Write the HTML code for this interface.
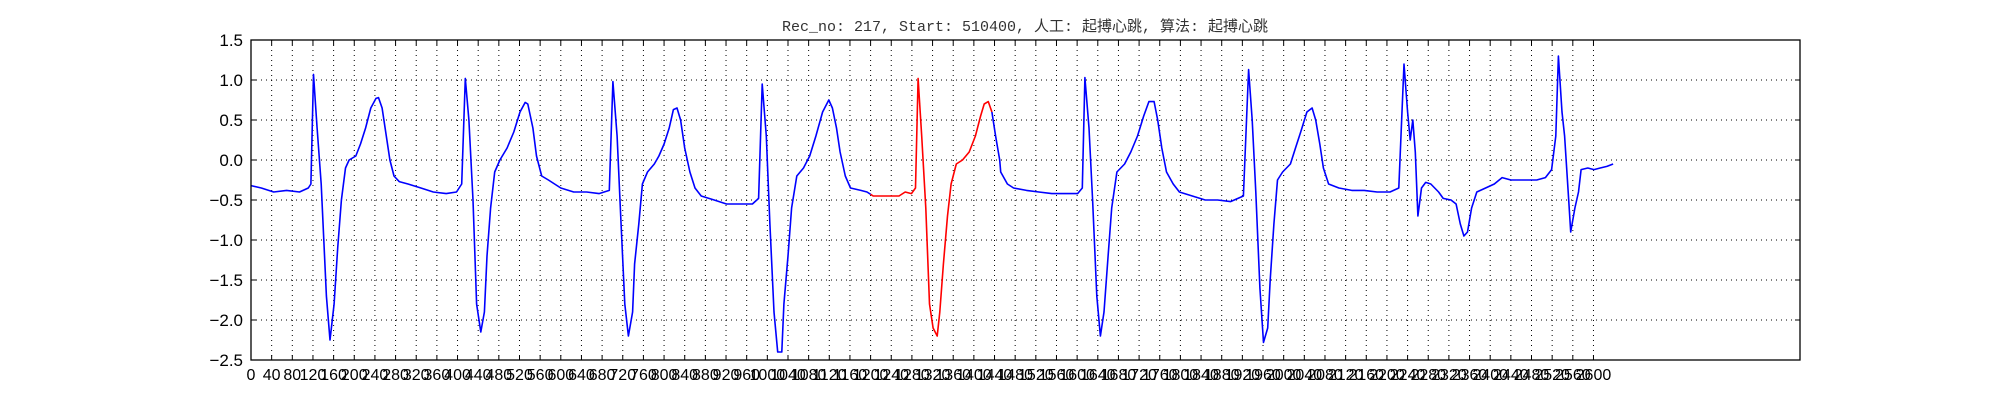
<!DOCTYPE html>
<html><head><meta charset="utf-8"><style>
html,body{margin:0;padding:0;background:#fff;}
svg{display:block;}
text{font-family:"Liberation Sans","DejaVu Sans",sans-serif;fill:#000;}
</style></head><body>
<svg id="chart" width="2000" height="400" xmlns="http://www.w3.org/2000/svg">
<rect width="2000" height="400" fill="#fff"/>
<text id="title" x="1025" y="31" text-anchor="middle" style="font-family:'Liberation Mono','Noto Sans CJK SC',monospace;font-size:15px;fill:#333">Rec_no: 217, Start: 510400, 人工: 起搏心跳, 算法: 起搏心跳</text>
<g id="grid"></g>
<g id="series"></g>
<g id="axes"></g>
</svg>
<script>
const sampleIdx=[0,20,44,69,94,111,116,121,128,136,146,153,161,168,175,183,190,203,212,222,232,242,247,254,262,269,277,287,304,329,353,378,398,408,415,
422,430,437,445,452,457,464,472,482,496,509,521,531,536,546,553,563,576,600,625,650,674,694,
701,709,716,724,731,739,743,751,758,768,781,790,800,810,818,825,832,840,850,860,872,897,921,946,971,983,
990,998,1005,1013,1020,1028,1032,1040,1047,1057,1070,1082,1094,1107,1119,1126,1134,1141,1151,1161,1181,1193,1205,1230,1255,1267,1279,1287,
1292,1299,1307,1314,1321,1329,1334,1341,1349,1356,1366,1378,1391,1403,1413,1420,1428,1435,1442,1450,1452,1465,1477,1502,1526,1551,1576,1601,1610,
1615,1623,1630,1638,1645,1652,1660,1667,1677,1692,1704,1717,1729,1739,1749,1756,1764,1773,1786,1798,1823,1848,1872,1897,1922,
1932,1939,1946,1954,1961,1969,1974,1981,1988,1998,2013,2023,2033,2045,2055,2062,2070,2077,2087,2107,2132,2156,2181,2206,2223,
2233,2240,2245,2250,2255,2260,2267,2275,2285,2300,2309,2324,2334,2342,2349,2356,2364,2374,2391,2408,2423,2440,2465,2490,2507,2519,2527,
2532,2539,2544,2552,2556,2564,2571,2576,2589,2601,2613,2626,2638];
const ecgValues=[-0.32,-0.35,-0.4,-0.38,-0.4,-0.35,-0.3,1.07,0.4,-0.3,-1.7,-2.25,-1.8,-1.1,-0.5,-0.1,0.0,0.05,0.2,0.4,0.65,0.77,0.78,0.65,0.3,0.0,-0.2,-0.27,-0.3,-0.35,-0.4,-0.42,-0.4,-0.3,1.02,
0.5,-0.5,-1.8,-2.15,-1.9,-1.2,-0.6,-0.15,0.0,0.15,0.35,0.6,0.72,0.7,0.4,0.05,-0.2,-0.25,-0.35,-0.4,-0.4,-0.42,-0.38,
0.98,0.3,-0.7,-1.8,-2.2,-1.9,-1.3,-0.8,-0.3,-0.15,-0.05,0.05,0.2,0.4,0.63,0.65,0.5,0.15,-0.15,-0.35,-0.45,-0.5,-0.55,-0.55,-0.55,-0.48,
0.95,0.3,-0.8,-1.9,-2.4,-2.4,-1.8,-1.2,-0.6,-0.2,-0.1,0.05,0.3,0.6,0.75,0.65,0.4,0.1,-0.2,-0.35,-0.38,-0.4,-0.45,-0.45,-0.45,-0.4,-0.42,-0.35,
1.02,0.3,-0.6,-1.8,-2.1,-2.2,-1.9,-1.3,-0.7,-0.3,-0.05,0.0,0.1,0.3,0.55,0.7,0.73,0.6,0.3,0.0,-0.15,-0.3,-0.35,-0.38,-0.4,-0.42,-0.42,-0.42,-0.35,
1.03,0.4,-0.5,-1.7,-2.2,-1.9,-1.2,-0.6,-0.15,-0.05,0.1,0.3,0.55,0.73,0.73,0.5,0.15,-0.15,-0.3,-0.4,-0.45,-0.5,-0.5,-0.52,-0.45,
1.13,0.5,-0.4,-1.6,-2.28,-2.1,-1.5,-0.8,-0.25,-0.15,-0.05,0.15,0.35,0.6,0.65,0.5,0.2,-0.1,-0.3,-0.35,-0.38,-0.38,-0.4,-0.4,-0.35,
1.2,0.6,0.25,0.5,0.1,-0.7,-0.35,-0.28,-0.3,-0.4,-0.48,-0.5,-0.55,-0.8,-0.95,-0.9,-0.6,-0.4,-0.35,-0.3,-0.22,-0.25,-0.25,-0.25,-0.22,-0.12,0.3,
1.3,0.6,0.3,-0.5,-0.9,-0.6,-0.4,-0.12,-0.1,-0.12,-0.1,-0.08,-0.05];
const redRange=[1200,1435];
const yTicks=[1.5,1.0,0.5,0.0,-0.5,-1.0,-1.5,-2.0,-2.5];
const xTickStep=40, xTickMax=2600;
const xDomain=[0,3000], yDomain=[-2.5,1.5];
const L=251,R=1800,T=40,B=360;
const NS="http://www.w3.org/2000/svg";
function sx(v){return L+(v-xDomain[0])/(xDomain[1]-xDomain[0])*(R-L);}
function sy(v){return B-(v-yDomain[0])/(yDomain[1]-yDomain[0])*(B-T);}
function mk(tag,attrs,parent){const e=document.createElementNS(NS,tag);for(const k in attrs)e.setAttribute(k,attrs[k]);parent.appendChild(e);return e;}
const grid=document.getElementById('grid'),series=document.getElementById('series'),axes=document.getElementById('axes');
for(let t=0;t<=xTickMax;t+=xTickStep){
  const x=sx(t);
  if(t>0){const g=mk('line',{x1:x,x2:x,y1:T,y2:B,stroke:'#000','stroke-width':1,'stroke-dasharray':'1,4'},grid);
  
  }
  const a=mk('line',{x1:x,x2:x,y1:B,y2:B-5,stroke:'#000','stroke-width':1},axes);
  
  
  const b=mk('line',{x1:x,x2:x,y1:T,y2:T+5,stroke:'#000','stroke-width':1},axes);
  
  
  const lb=mk('text',{x:x,y:B+20,'text-anchor':'middle','font-size':16},axes);
  lb.textContent=String(t);
  
  
}
yTicks.forEach(v=>{
  const y=sy(v);
  if(v<1.5&&v>-2.5){const g=mk('line',{x1:L,x2:R,y1:y,y2:y,stroke:'#000','stroke-width':1,'stroke-dasharray':'1,4'},grid);
  
  }
  const a=mk('line',{x1:L,x2:L+5,y1:y,y2:y,stroke:'#000'},axes);
  
  
  const b=mk('line',{x1:R,x2:R-5,y1:y,y2:y,stroke:'#000'},axes);
  
  
  const lb=mk('text',{x:L-8,y:y+6,'text-anchor':'end','font-size':17},axes);
  lb.textContent=(v<0?'\u2212':'')+Math.abs(v).toFixed(1);
  
  
});
const frame=mk('rect',{x:L,y:T,width:R-L,height:B-T,fill:'none',stroke:'#000','stroke-width':1.3},axes);


// interpolate value at sample s for splitting colors
function valAt(s){for(let i=1;i<sampleIdx.length;i++){if(sampleIdx[i]>=s){const a=sampleIdx[i-1],b=sampleIdx[i];const f=(s-a)/(b-a);return ecgValues[i-1]+f*(ecgValues[i]-ecgValues[i-1]);}}return ecgValues[ecgValues.length-1];}
function seg(from,to){const pts=[[from,valAt(from)]];for(let i=0;i<sampleIdx.length;i++){if(sampleIdx[i]>from&&sampleIdx[i]<to)pts.push([sampleIdx[i],ecgValues[i]]);}pts.push([to,valAt(to)]);return pts.map(p=>sx(p[0]).toFixed(1)+','+sy(p[1]).toFixed(1)).join(' ');}
const last=sampleIdx[sampleIdx.length-1];
const p1=mk('polyline',{points:seg(0,redRange[0]),fill:'none',stroke:'#0000ff','stroke-width':1.6,'stroke-linejoin':'round'},series);


const p2=mk('polyline',{points:seg(redRange[0],redRange[1]),fill:'none',stroke:'#ff0000','stroke-width':1.6,'stroke-linejoin':'round'},series);


const p3=mk('polyline',{points:seg(redRange[1],last),fill:'none',stroke:'#0000ff','stroke-width':1.6,'stroke-linejoin':'round'},series);


</script>
</body></html>
